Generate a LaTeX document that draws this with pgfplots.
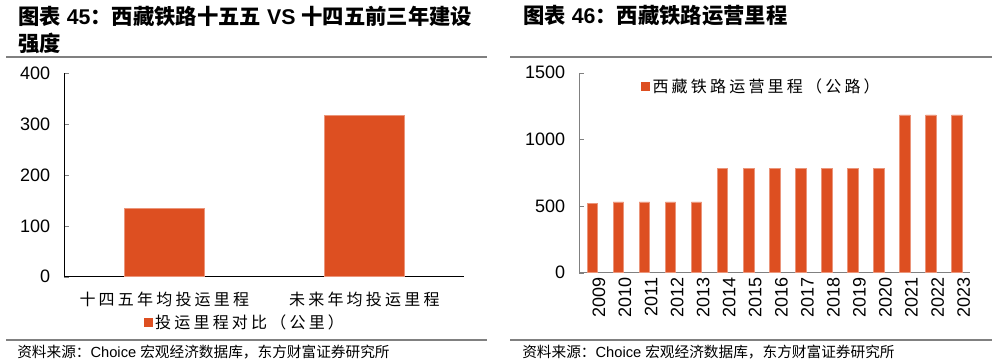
\documentclass[border=0pt]{standalone}
\usepackage{pgfplots}
\pgfplotsset{compat=1.18}
\usepackage{fontspec}
\setmainfont{Liberation Sans}
\newfontfamily\cjk{Noto Sans CJK SC}
\newfontfamily\cjkls{Noto Sans CJK SC}[LetterSpace=20]
\definecolor{barc}{HTML}{DD4F21}
\definecolor{sepc}{HTML}{808080}
\begin{document}
\begin{tikzpicture}[x=0.75pt,y=0.75pt]
\useasboundingbox (0,0) rectangle (997,364);
% titles
\node[anchor=west,inner sep=0] at (18,348) {\fontsize{16pt}{18pt}\selectfont\bfseries{\cjk 图表} 45{\cjk ：西藏铁路十五五} VS {\cjk 十四五前三年建设}};
\node[anchor=west,inner sep=0] at (18,321) {\fontsize{16pt}{18pt}\selectfont\bfseries{\cjk 强度}};
\node[anchor=west,inner sep=0] at (523,348) {\fontsize{16pt}{18pt}\selectfont\bfseries{\cjk 图表} 46{\cjk ：西藏铁路运营里程}};
% separators
\draw[sepc,line width=1.5pt] (6,306.5) -- (487,306.5);
\draw[sepc,line width=1.5pt] (510,306.5) -- (992,306.5);
\draw[sepc,line width=1.5pt] (6,23.5) -- (487,23.5);
\draw[sepc,line width=1.5pt] (510,23.5) -- (992,23.5);
% sources
\node[anchor=west,inner sep=0] at (17,12) {\fontsize{11pt}{13pt}\selectfont{\cjk 资料来源：}Choice {\cjk 宏观经济数据库，东方财富证券研究所}};
\node[anchor=west,inner sep=0] at (522,12) {\fontsize{11pt}{13pt}\selectfont{\cjk 资料来源：}Choice {\cjk 宏观经济数据库，东方财富证券研究所}};

\begin{axis}[
  at={(48.225pt,65.475pt)}, anchor=south west,
  scale only axis, width=300pt, height=152.5pt,
  xmin=-0.5, xmax=1.5, ymin=0, ymax=400,
  axis x line=bottom, axis y line=left,
  axis line style={-,black},
  /pgf/number format/assume math mode=true,
  /pgf/number format/1000 sep={},
  ytick={0,100,200,300,400},
  xtick={0,1},
  xticklabels={十四五年均投运里程,未来年均投运里程},
  xticklabel style={font=\cjkls\fontsize{12pt}{14pt}\selectfont, yshift=-8pt},
  major x tick style={draw=none},
  major y tick style={sepc},
  tick align=inside, major tick length=3.75pt,
  yticklabel style={font=\fontsize{13.5pt}{16pt}\selectfont, xshift=-7pt},
  legend style={at={(0.452,-0.225)}, anchor=center, draw=none, fill=none, inner sep=0pt,
    font=\cjkls\fontsize{12pt}{14pt}\selectfont},
  legend image code/.code={\fill[barc] (0pt,-3.2pt) rectangle (6.3pt,3.2pt);},
]
\addplot[ybar, bar width=0.4, fill=barc, draw=barc!60!white, line width=0.4pt] coordinates {(0,135) (1,318)};
\addlegendentry{投运里程对比（公里）}
\end{axis}

\begin{axis}[
  at={(434.475pt,68.475pt)}, anchor=south west,
  scale only axis, width=293pt, height=150pt,
  xmin=-0.5, xmax=14.5, ymin=0, ymax=1500,
  axis x line=bottom, axis y line=left,
  axis line style={-,sepc},
  /pgf/number format/assume math mode=true,
  /pgf/number format/1000 sep={},
  ytick={0,500,1000,1500},
  xtick={0,...,14},
  xticklabels={2009,2010,2011,2012,2013,2014,2015,2016,2017,2018,2019,2020,2021,2022,2023},
  xticklabel style={font=\fontsize{13.5pt}{16pt}\selectfont, rotate=90, anchor=east, yshift=-5pt},
  major x tick style={draw=none},
  major y tick style={sepc},
  tick align=inside, major tick length=3.75pt,
  yticklabel style={font=\fontsize{13.5pt}{16pt}\selectfont, xshift=-7pt},
  legend style={at={(0.157,0.985)}, anchor=north west, draw=none, fill=none, inner sep=0pt,
    font=\cjkls\fontsize{12pt}{14pt}\selectfont},
  legend image code/.code={\fill[barc] (0pt,-3.2pt) rectangle (6.3pt,3.2pt);},
]
\addplot[ybar, bar width=0.4, fill=barc, draw=barc!60!white, line width=0.4pt] coordinates {
(0,520) (1,531) (2,531) (3,531) (4,531) (5,785) (6,785) (7,785) (8,785) (9,785) (10,785) (11,785) (12,1183) (13,1183) (14,1183)};
\addlegendentry{西藏铁路运营里程（公路）}
\end{axis}
\end{tikzpicture}
\end{document}
